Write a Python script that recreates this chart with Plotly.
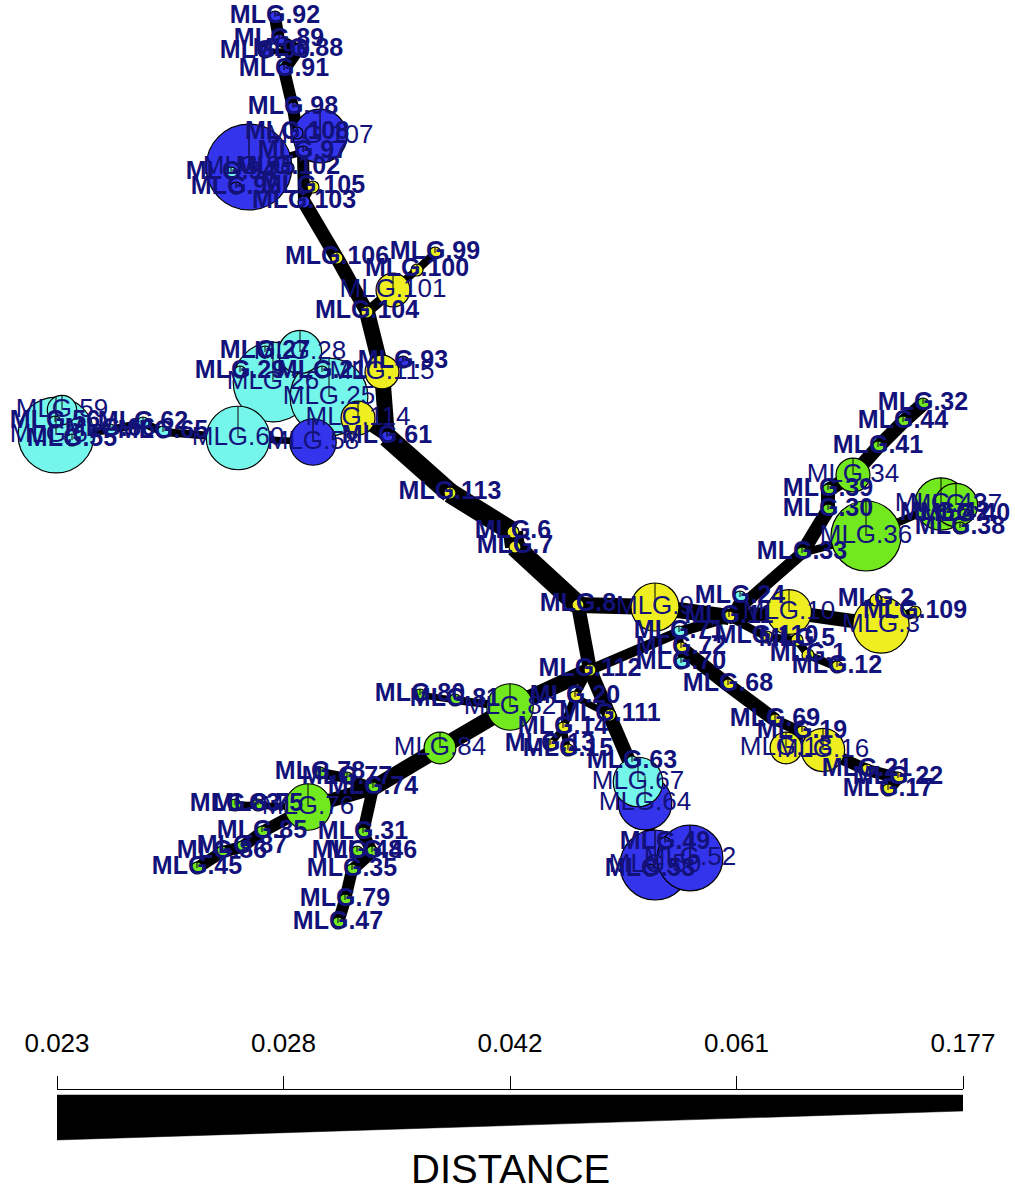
import numpy as np
import plotly.graph_objects as go

# ---------------- data ----------------
mlg = [92, 89, 90, 88, 91, 98, 107, 108, 97, 95, 102, 94, 96, 105, 103, 106, 104, 101, 100, 99,
       93, 115, 114, 61, 58, 28, 27, 26, 29, 21, 25, 60, 57, 59, 56, 55, 66, 62, 65, 113, 6, 7,
       32, 44, 41, 34, 39, 30, 36, 33, 43, 37, 42, 40, 38,
       8, 9, 24, 11, 10, 2, 109, 3, 71, 72, 70, 110, 5, 1, 12, 68, 69, 19, 18, 16, 21.5, 22, 17,
       112, 20, 111, 14, 13, 15, 67, 63, 64, 50, 52, 49, 53,
       82, 81, 80, 84, 74, 77, 78, 76, 83, 75, 85, 87, 86, 45, 31, 46, 48, 35, 79, 47]
pop = list("BBBBBBBBBBBCBYBYYYYY" "BYYBBCCCCCCCCCCCCCCYYY" "GGGGGGGGGGGGG"
           "YYCYYYYYCYCYYYYYYYYYYYY" "YYYYYYCCBBBBB" "GGGGGGGGGGGGGGGGGGGG")
layout_x = [275, 279, 265, 298, 284, 293, 320, 297, 303, 249, 288, 231, 236, 313, 304, 337, 367, 393, 417, 435,
            403, 382, 358, 387, 313, 300, 265, 273, 240, 322, 329, 238, 56, 62, 55, 72, 110, 143, 163, 450, 513, 515,
            923, 903, 878, 853, 828, 828, 866, 802, 941, 956, 945, 965, 960,
            578, 655, 740, 729, 789, 876, 915, 881, 679, 681, 681, 767, 797, 808, 837, 728, 775, 802, 786, 823, 867, 898, 888,
            590, 575, 610, 563, 550, 568, 638, 632, 645, 655, 690, 665, 650,
            510, 455, 420, 440, 373, 347, 320, 308, 235, 258, 262, 242, 222, 197, 363, 372, 357, 352, 345, 338]
layout_y = [17, 40, 52, 50, 70, 108, 136, 133, 152, 167, 168, 173, 188, 187, 202, 258, 312, 290, 270, 253,
            362, 372, 418, 437, 442, 352, 352, 382, 372, 372, 397, 438, 435, 410, 422, 440, 430, 423, 432, 493, 532, 547,
            404, 422, 447, 475, 490, 510, 536, 553, 504, 505, 514, 515, 528,
            605, 607, 597, 617, 612, 600, 612, 625, 632, 648, 663, 637, 640, 655, 667, 685, 720, 732, 748, 750, 770, 778, 790,
            670, 697, 715, 728, 745, 750, 782, 762, 803, 865, 858, 843, 870,
            707, 700, 695, 748, 788, 778, 773, 807, 805, 805, 832, 847, 852, 868, 833, 852, 852, 870, 900, 923]
mlg_count = [1, 1, 1, 1, 1, 1, 20, 1, 1, 51, 1, 1, 1, 1, 1, 1, 1, 8, 1, 1,
             1, 8, 8, 1, 15, 13, 1, 44, 1, 1, 42, 28, 40, 6, 1, 1, 1, 1, 1, 1, 1, 1,
             1, 1, 1, 8, 1, 1, 34, 1, 19, 13, 1, 1, 1,
             1, 16, 1, 1, 14, 1, 1, 22, 1, 1, 1, 1, 1, 1, 1, 1, 1, 1, 7, 13, 1, 1, 1,
             1, 1, 1, 1, 1, 1, 17, 1, 20, 34, 30, 1, 1,
             15, 1, 1, 7, 1, 1, 1, 15, 1, 1, 1, 1, 1, 1, 1, 1, 1, 1, 1, 1]
# id 21.5 is the second node displayed as "MLG.21"
labels = ["MLG.%d" % int(m) for m in mlg]

edge_from = [61, 113, 6, 7, 8, 9, 11, 10, 3, 3,
             8, 112, 67, 67, 64, 50, 50, 50,
             112, 71, 11, 11, 33, 30, 39, 34, 41, 44,
             33, 36, 43, 43, 37, 40,
             71, 72, 72, 68, 69, 19, 18, 16, 21.5, 22,
             11, 110, 5, 1,
             112, 82, 81, 82, 84, 74, 77, 74, 76, 85, 87, 86, 76, 83,
             74, 31, 46, 46, 35, 79,
             112, 20, 20, 14, 14,
             61, 61, 115, 115, 104, 101, 100, 104, 106, 103, 103, 97, 108, 98, 91, 88, 89, 88, 108, 97, 95, 95, 95,
             114, 25, 25, 26, 28, 26, 114, 58, 60, 65, 62, 66, 57, 57, 57]
edge_to = [113, 6, 7, 8, 9, 11, 10, 3, 2, 109,
           112, 67, 63, 64, 50, 52, 49, 53,
           71, 11, 24, 33, 30, 39, 34, 41, 44, 32,
           36, 43, 37, 42, 40, 38,
           72, 70, 68, 69, 19, 18, 16, 21.5, 22, 17,
           110, 5, 1, 12,
           82, 81, 80, 84, 74, 77, 78, 76, 85, 87, 86, 45, 83, 75,
           31, 46, 48, 35, 79, 47,
           20, 111, 14, 13, 15,
           114, 115, 93, 104, 101, 100, 99, 106, 103, 105, 97, 108, 98, 91, 88, 89, 92, 90, 107, 95, 94, 96, 102,
           25, 21, 26, 28, 27, 29, 58, 60, 65, 62, 66, 57, 59, 56, 55]
edge_dist = [0.023, 0.023, 0.023, 0.023, 0.028, 0.028, 0.035, 0.035, 0.05, 0.05,
             0.035, 0.035, 0.061, 0.05, 0.05, 0.061, 0.12, 0.12,
             0.05, 0.05, 0.09, 0.042, 0.035, 0.035, 0.035, 0.035, 0.035, 0.035,
             0.061, 0.061, 0.09, 0.12, 0.12, 0.12,
             0.09, 0.09, 0.035, 0.035, 0.05, 0.05, 0.05, 0.042, 0.042, 0.042,
             0.061, 0.061, 0.061, 0.061,
             0.028, 0.061, 0.09, 0.028, 0.028, 0.05, 0.05, 0.035, 0.042, 0.042, 0.042, 0.042, 0.09, 0.09,
             0.042, 0.042, 0.12, 0.042, 0.042, 0.042,
             0.09, 0.09, 0.061, 0.09, 0.09,
             0.05, 0.028, 0.09, 0.028, 0.05, 0.061, 0.061, 0.035, 0.035, 0.12, 0.042, 0.042, 0.042, 0.042, 0.042,
             0.042, 0.042, 0.12, 0.09, 0.09, 0.15, 0.15, 0.15,
             0.09, 0.15, 0.09, 0.12, 0.15, 0.15, 0.09, 0.09, 0.061, 0.061, 0.061, 0.061, 0.12, 0.15, 0.15]

scale_ticks = [0.023, 0.028, 0.042, 0.061, 0.177]
scale_labels = ["0.023", "0.028", "0.042", "0.061", "0.177"]

# ---------------- styles ----------------
pop_colors = {"B": "#3434EC", "C": "#74F6EB", "G": "#72E81E", "Y": "#EEEE20"}
edge_widths_at_ticks = [20, 16, 12, 8, 3]
legend_thickness = [45, 16]
label_color = "#12127A"
FONT = "Liberation Sans, Arial, sans-serif"

idx = {m: i for i, m in enumerate(mlg)}
diam = [12 * np.sqrt(c) for c in mlg_count]

fig = go.Figure()

# edges
for a, b, d in zip(edge_from, edge_to, edge_dist):
    ia, ib = idx[a], idx[b]
    w = float(np.interp(d, scale_ticks, edge_widths_at_ticks))
    fig.add_trace(go.Scatter(x=[layout_x[ia], layout_x[ib]], y=[layout_y[ia], layout_y[ib]],
                             mode="lines", line=dict(color="black", width=w),
                             hoverinfo="skip", showlegend=False))

# nodes (largest first)
order = sorted(range(len(mlg)), key=lambda i: -diam[i])
fig.add_trace(go.Scatter(
    x=[layout_x[i] for i in order], y=[layout_y[i] for i in order], mode="markers",
    marker=dict(size=[diam[i] for i in order], color=[pop_colors[pop[i]] for i in order],
                line=dict(color="black", width=1.2), opacity=1),
    hoverinfo="skip", showlegend=False))

# pie boundary line (centre to top)
px, py = [], []
for i in range(len(mlg)):
    px += [layout_x[i], layout_x[i], None]
    py += [layout_y[i], layout_y[i] - diam[i] / 2, None]
fig.add_trace(go.Scatter(x=px, y=py, mode="lines", line=dict(color="black", width=1),
                         hoverinfo="skip", showlegend=False))

# labels: heavier over the single-sample nodes, lighter over the large ones
big = [i for i in range(len(mlg)) if mlg_count[i] > 1]
small = [i for i in range(len(mlg)) if mlg_count[i] == 1]
for group, weight, size in ((big, "normal", 26), (small, "bold", 25)):
    fig.add_trace(go.Scatter(x=[layout_x[i] for i in group], y=[layout_y[i] for i in group],
                             mode="text", text=[labels[i] for i in group],
                             textposition="middle center",
                             textfont=dict(family=FONT, size=size, color=label_color, weight=weight),
                             hoverinfo="skip", showlegend=False))

# distance scale wedge
n = len(scale_ticks) - 1
fig.add_trace(go.Scatter(x=[0, n, n, 0, 0],
                         y=[5, 5, 5 + legend_thickness[1], 5 + legend_thickness[0], 5],
                         mode="lines", fill="toself", fillcolor="black",
                         line=dict(color="black", width=0.5),
                         xaxis="x2", yaxis="y2", hoverinfo="skip", showlegend=False))

fig.update_layout(
    width=1015, height=1195, autosize=False,
    margin=dict(l=0, r=0, t=0, b=0, pad=0),
    paper_bgcolor="white", plot_bgcolor="rgba(0,0,0,0)",
    showlegend=False,
    xaxis=dict(range=[0, 1015], domain=[0, 1], visible=False, fixedrange=True, automargin=False),
    yaxis=dict(range=[1195, 0], domain=[0, 1], visible=False, fixedrange=True, automargin=False),
    xaxis2=dict(domain=[57 / 1015, 963 / 1015], anchor="y2", side="top", range=[0, n],
                tickvals=list(range(n + 1)), ticktext=scale_labels,
                ticks="outside", ticklen=13, tickwidth=1, tickcolor="black",
                showline=True, linecolor="black", linewidth=1,
                showgrid=False, zeroline=False, automargin=False, ticklabelstandoff=14,
                tickfont=dict(family=FONT, size=26, color="black")),
    yaxis2=dict(domain=[0, 105 / 1195], range=[105, 0], visible=False, automargin=False),
    annotations=[dict(text="DISTANCE", xref="paper", yref="paper",
                      x=510 / 1015, y=0.002, xanchor="center", yanchor="bottom",
                      showarrow=False, font=dict(family=FONT, size=40, color="black"))],
)

fig.write_html("out.html")
